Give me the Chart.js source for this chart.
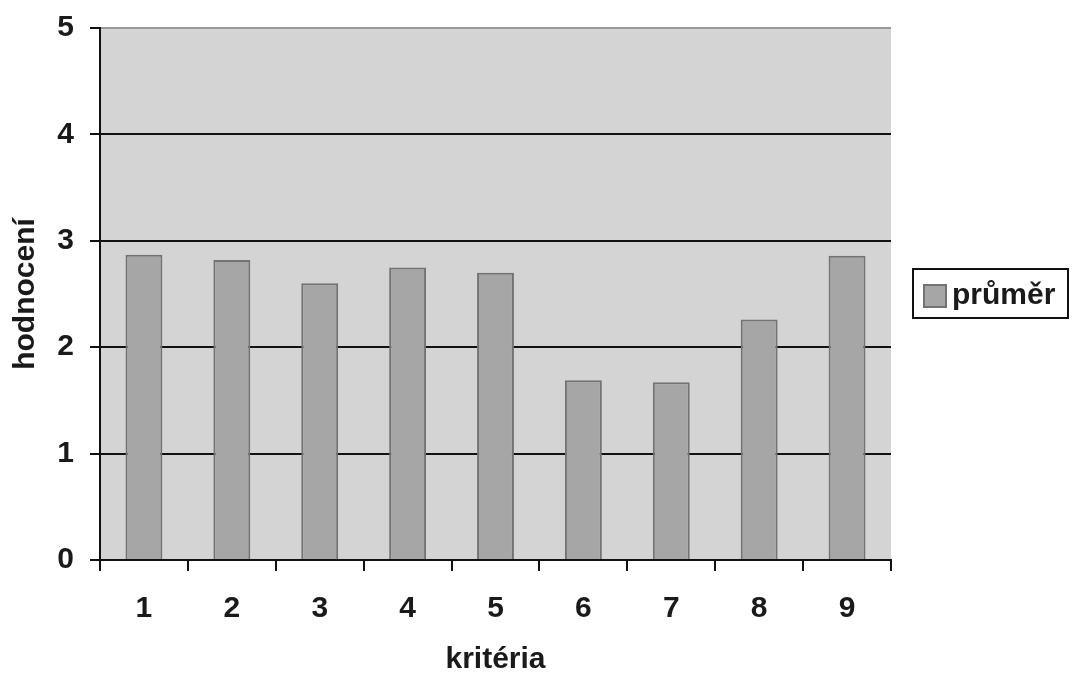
<!DOCTYPE html>
<html>
<head>
<meta charset="utf-8">
<script src="https://cdn.jsdelivr.net/npm/chart.js@4.4.0/dist/chart.umd.min.js"></script>
<style>
    html, body { margin: 0; padding: 0; background: #ffffff; }
    #wrap { width: 1072px; height: 675px; }
</style>
</head>
<body>
<div id="wrap"><canvas id="barChart" width="1072" height="675"></canvas></div>
<script>
const kriteria = ['1', '2', '3', '4', '5', '6', '7', '8', '9'];
const prumer = [2.87, 2.82, 2.60, 2.75, 2.70, 1.69, 1.67, 2.26, 2.86];
const yTicks = [0, 1, 2, 3, 4, 5];

const fontFam = '"Liberation Sans", Arial, sans-serif';
const fontSize = 30;

// gray plot background + legend box drawn by hand
const plotBg = {
    id: 'plotBg',
    beforeDraw(chart) {
        const a = chart.chartArea;
        const c = chart.ctx;
        c.save();
        c.fillStyle = '#d4d4d4';
        c.fillRect(a.left, a.top, a.right - a.left, a.bottom - a.top);
        c.restore();
    },
    afterDraw(chart) {
        const c = chart.ctx;
        const ds = chart.data.datasets[0];
        c.save();
        c.fillStyle = '#ffffff';
        c.fillRect(913, 269, 155, 49);
        c.strokeStyle = '#111111';
        c.lineWidth = 2;
        c.strokeRect(913, 269, 155, 49);
        c.fillStyle = ds.backgroundColor;
        c.fillRect(924, 285, 22, 22);
        c.strokeStyle = ds.borderColor;
        c.lineWidth = 2;
        c.strokeRect(924, 285, 22, 22);
        c.fillStyle = '#1a1a1a';
        c.font = 'bold ' + fontSize + 'px ' + fontFam;
        c.textBaseline = 'middle';
        c.fillText(ds.label, 952, 296);
        c.restore();
    }
};

const ctxBar = document.getElementById('barChart').getContext('2d');
let chart = new Chart(ctxBar, {
    type: 'bar',
    data: {
        labels: kriteria,
        datasets: [{
            label: 'průměr',
            data: prumer,
            backgroundColor: '#a6a6a6',
            borderColor: '#737373',
            borderWidth: 2,
            barPercentage: 0.42,
            categoryPercentage: 1
        }]
    },
    options: {
        responsive: false,
        animation: false,
        layout: {
            padding: { top: 28, right: 181, left: 0, bottom: 0 }
        },
        plugins: {
            legend: { display: false },
            tooltip: { enabled: false }
        },
        scales: {
            x: {
                grid: {
                    offset: true,
                    drawOnChartArea: false,
                    drawTicks: true,
                    tickLength: 11,
                    tickColor: '#111111',
                    lineWidth: 2
                },
                border: { color: '#111111', width: 2 },
                ticks: {
                    color: '#1a1a1a',
                    padding: 23,
                    font: { family: fontFam, size: fontSize, weight: 'bold', lineHeight: 1 }
                },
                title: {
                    display: true,
                    text: 'kritéria',
                    color: '#1a1a1a',
                    padding: { top: 0, bottom: 0 },
                    font: { family: fontFam, size: fontSize, weight: 'bold', lineHeight: 1 }
                },
                afterFit(scale) {
                    scale.height = 115;
                    scale.paddingLeft = 0;
                    scale.paddingRight = 0;
                }
            },
            y: {
                min: 0,
                max: 5,
                afterBuildTicks(scale) {
                    scale.ticks = yTicks.map(v => ({ value: v }));
                },
                grid: {
                    color: ctx => ctx.tick && ctx.tick.value === 5 ? '#9a9a9a' : '#111111',
                    lineWidth: 2,
                    tickLength: 10,
                    tickColor: '#111111'
                },
                border: { color: '#111111', width: 2 },
                ticks: {
                    color: '#1a1a1a',
                    padding: 16,
                    font: { family: fontFam, size: fontSize, weight: 'bold' }
                },
                title: {
                    display: true,
                    text: 'hodnocení',
                    color: '#1a1a1a',
                    padding: { top: 11, bottom: 0 },
                    font: { family: fontFam, size: fontSize, weight: 'bold', lineHeight: 1 }
                },
                afterFit(scale) {
                    scale.width = 100;
                    scale.paddingTop = 0;
                    scale.paddingBottom = 0;
                }
            }
        }
    },
    plugins: [plotBg]
});
</script>
</body>
</html>
